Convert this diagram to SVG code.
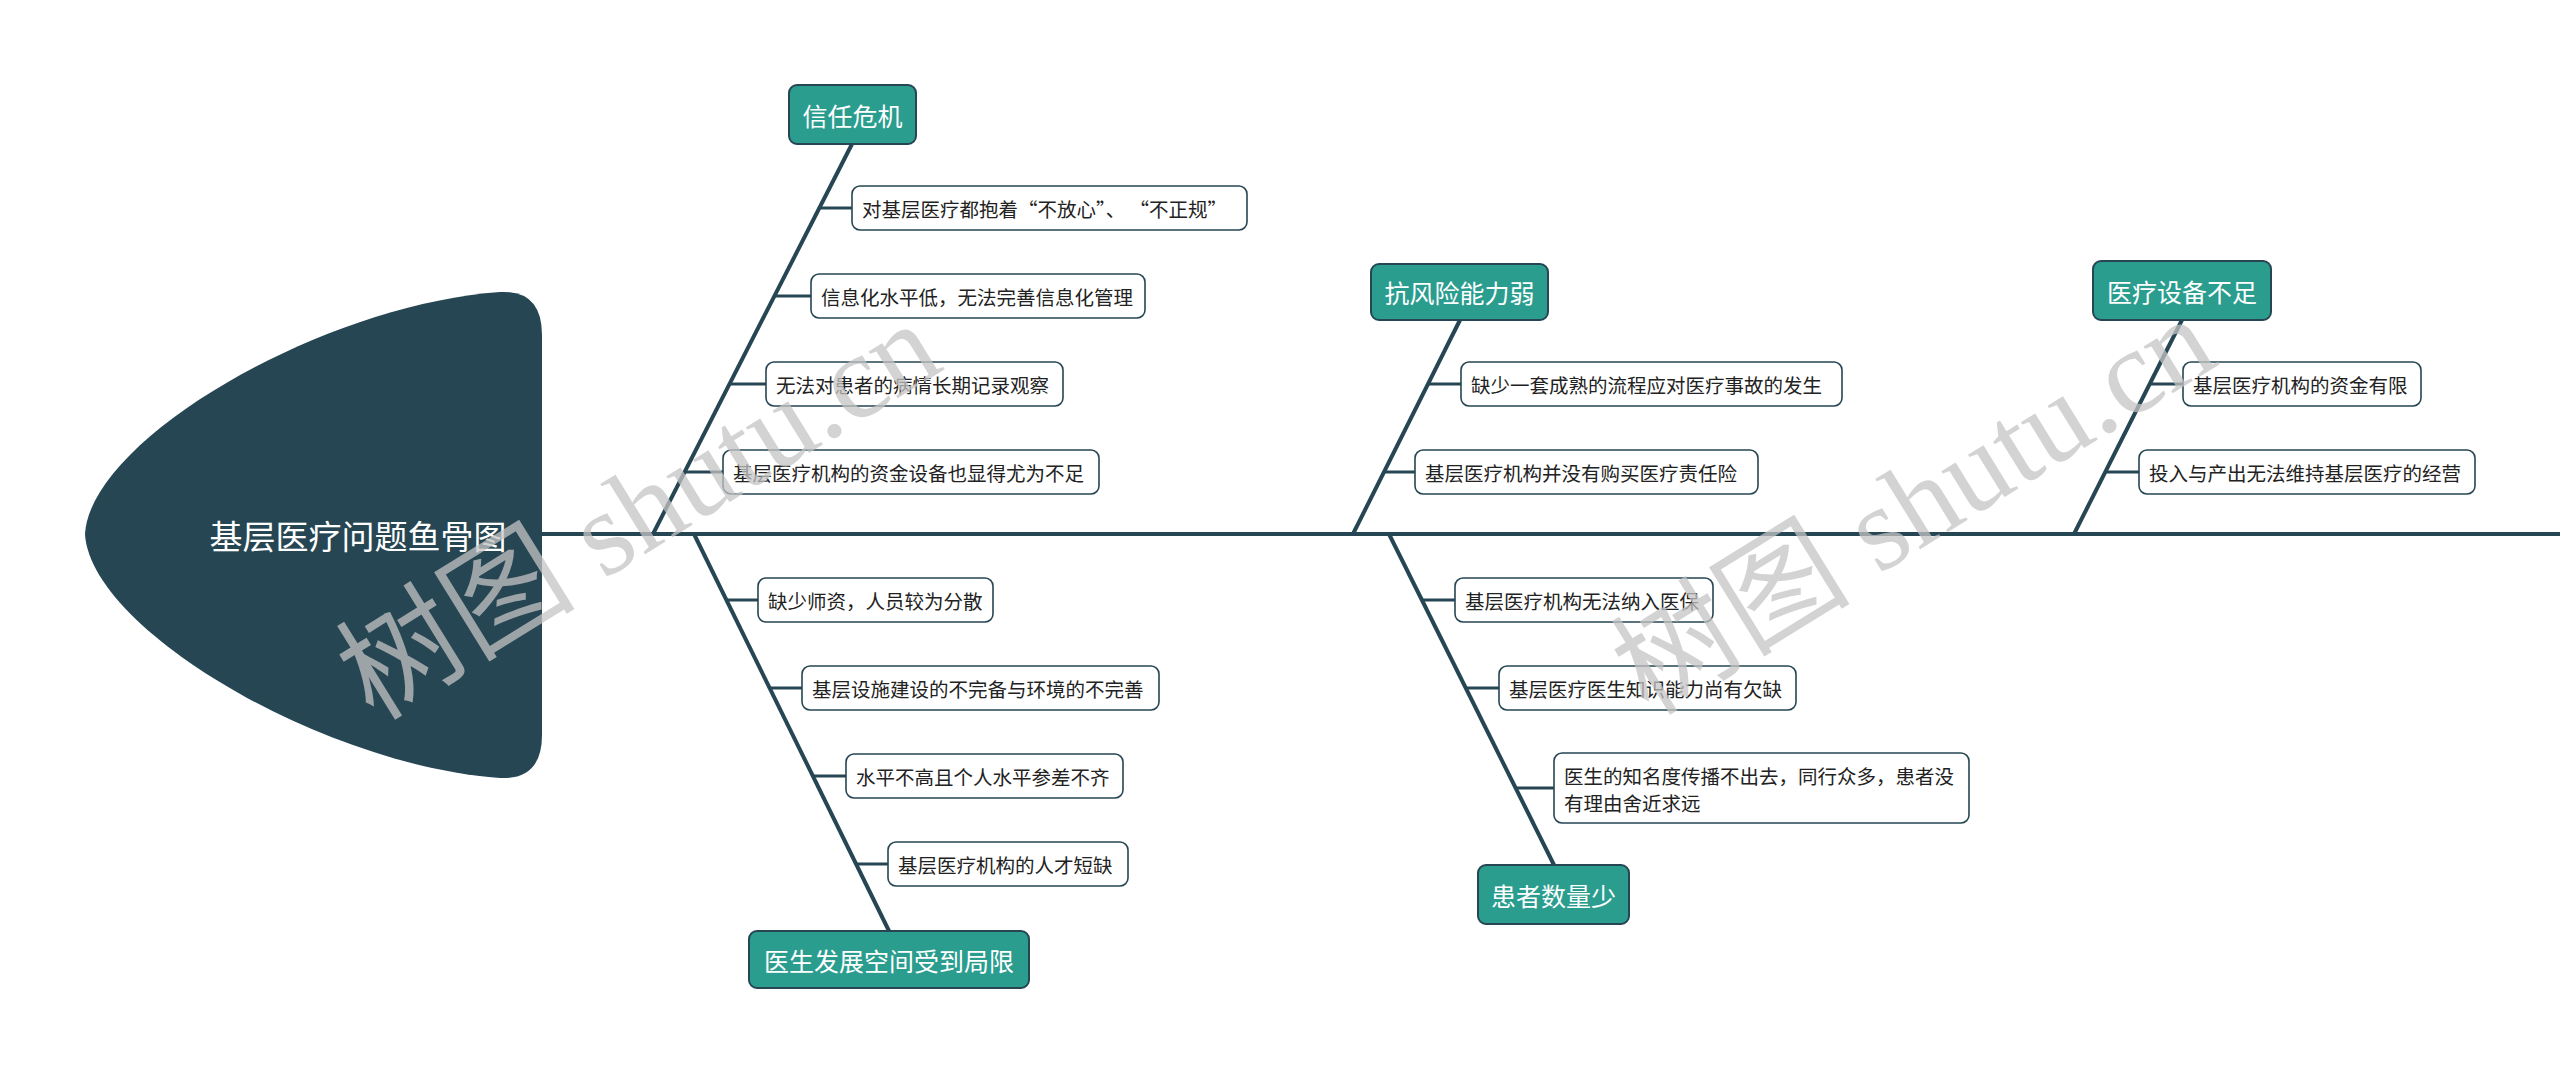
<svg xmlns="http://www.w3.org/2000/svg" width="2560" height="1073" viewBox="0 0 2560 1073">
<style>
.cat rect{fill:#2a9d8f;stroke:#264653;stroke-width:2}
.cat text{fill:#ffffff;font-family:"Noto Sans CJK SC","Noto Sans",sans-serif;font-size:25px;text-anchor:middle;dominant-baseline:central}
.sub rect{fill:#ffffff;stroke:#264653;stroke-width:1.6}
.sub text{fill:#222222;font-family:"Noto Sans CJK SC","Noto Sans",sans-serif;font-size:19.5px;dominant-baseline:central}
.ln{stroke:#264653;fill:none}
.wm{fill:#c4c4c4;fill-opacity:0.75;font-family:"Liberation Serif","Noto Sans CJK SC",serif;font-size:120px;text-anchor:middle}
</style>
<rect width="2560" height="1073" fill="#ffffff"/>
<g id="connectors">
<line class="ln" x1="540" y1="534" x2="2560" y2="534" stroke-width="4"/>
<line class="ln" x1="653" y1="534" x2="852" y2="144" stroke-width="4"/>
<line class="ln" x1="819" y1="208" x2="852" y2="208" stroke-width="3"/>
<line class="ln" x1="774" y1="296" x2="811" y2="296" stroke-width="3"/>
<line class="ln" x1="729" y1="384" x2="766" y2="384" stroke-width="3"/>
<line class="ln" x1="684" y1="472" x2="723" y2="472" stroke-width="3"/>
<line class="ln" x1="694" y1="534" x2="889" y2="931" stroke-width="4"/>
<line class="ln" x1="726" y1="600" x2="758" y2="600" stroke-width="3"/>
<line class="ln" x1="769" y1="688" x2="802" y2="688" stroke-width="3"/>
<line class="ln" x1="812" y1="776" x2="846" y2="776" stroke-width="3"/>
<line class="ln" x1="855" y1="864" x2="888" y2="864" stroke-width="3"/>
<line class="ln" x1="1353" y1="534" x2="1460" y2="320" stroke-width="4"/>
<line class="ln" x1="1427" y1="384" x2="1461" y2="384" stroke-width="3"/>
<line class="ln" x1="1383" y1="472" x2="1415" y2="472" stroke-width="3"/>
<line class="ln" x1="1389" y1="534" x2="1554" y2="865" stroke-width="4"/>
<line class="ln" x1="1421" y1="600" x2="1455" y2="600" stroke-width="3"/>
<line class="ln" x1="1465" y1="688" x2="1499" y2="688" stroke-width="3"/>
<line class="ln" x1="1515" y1="788" x2="1554" y2="788" stroke-width="3"/>
<line class="ln" x1="2074" y1="534" x2="2182" y2="320" stroke-width="4"/>
<line class="ln" x1="2149" y1="384" x2="2183" y2="384" stroke-width="3"/>
<line class="ln" x1="2105" y1="472" x2="2139" y2="472" stroke-width="3"/>
</g>
<g id="head">
<path d="M 85 534 C 90 440, 320 305, 500 292 Q 542 290, 542 335 L 542 735 Q 542 780, 500 778 C 320 765, 90 628, 85 534 Z" fill="#264653"/>
<text x="358" y="535" fill="#ffffff" font-family="Noto Sans CJK SC, Noto Sans, sans-serif" font-size="33" text-anchor="middle" dominant-baseline="central">基层医疗问题鱼骨图</text>
</g>
<g id="cat1" class="cat"><rect x="789" y="85" width="127" height="59" rx="8"/><text x="852.5" y="114.5">信任危机</text></g>
<g id="s1a" class="sub"><rect x="852" y="186" width="395" height="44" rx="8"/><text x="862" y="208">对基层医疗都抱着“不放心”、 “不正规”</text></g>
<g id="s1b" class="sub"><rect x="811" y="274" width="334" height="44" rx="8"/><text x="821" y="296">信息化水平低，无法完善信息化管理</text></g>
<g id="s1c" class="sub"><rect x="766" y="362" width="297" height="44" rx="8"/><text x="776" y="384">无法对患者的病情长期记录观察</text></g>
<g id="s1d" class="sub"><rect x="723" y="450" width="376" height="44" rx="8"/><text x="733" y="472">基层医疗机构的资金设备也显得尤为不足</text></g>
<g id="cat2" class="cat"><rect x="749" y="931" width="280" height="57" rx="8"/><text x="889" y="959.5">医生发展空间受到局限</text></g>
<g id="s2a" class="sub"><rect x="758" y="578" width="235" height="44" rx="8"/><text x="768" y="600">缺少师资，人员较为分散</text></g>
<g id="s2b" class="sub"><rect x="802" y="666" width="357" height="44" rx="8"/><text x="812" y="688">基层设施建设的不完备与环境的不完善</text></g>
<g id="s2c" class="sub"><rect x="846" y="754" width="277" height="44" rx="8"/><text x="856" y="776">水平不高且个人水平参差不齐</text></g>
<g id="s2d" class="sub"><rect x="888" y="842" width="240" height="44" rx="8"/><text x="898" y="864">基层医疗机构的人才短缺</text></g>
<g id="cat3" class="cat"><rect x="1371" y="264" width="177" height="56" rx="8"/><text x="1459.5" y="292">抗风险能力弱</text></g>
<g id="s3a" class="sub"><rect x="1461" y="362" width="381" height="44" rx="8"/><text x="1471" y="384">缺少一套成熟的流程应对医疗事故的发生</text></g>
<g id="s3b" class="sub"><rect x="1415" y="450" width="343" height="44" rx="8"/><text x="1425" y="472">基层医疗机构并没有购买医疗责任险</text></g>
<g id="cat4" class="cat"><rect x="1478" y="865" width="151" height="59" rx="8"/><text x="1553.5" y="894.5">患者数量少</text></g>
<g id="s4a" class="sub"><rect x="1455" y="578" width="258" height="44" rx="8"/><text x="1465" y="600">基层医疗机构无法纳入医保</text></g>
<g id="s4b" class="sub"><rect x="1499" y="666" width="297" height="44" rx="8"/><text x="1509" y="688">基层医疗医生知识能力尚有欠缺</text></g>
<g id="s4c" class="sub"><rect x="1554" y="753" width="415" height="70" rx="8"/><text x="1564" y="775">医生的知名度传播不出去，同行众多，患者没</text><text x="1564" y="802">有理由舍近求远</text></g>
<g id="cat5" class="cat"><rect x="2093" y="261" width="178" height="59" rx="8"/><text x="2182" y="290.5">医疗设备不足</text></g>
<g id="s5a" class="sub"><rect x="2183" y="362" width="238" height="44" rx="8"/><text x="2193" y="384">基层医疗机构的资金有限</text></g>
<g id="s5b" class="sub"><rect x="2139" y="450" width="336" height="44" rx="8"/><text x="2149" y="472">投入与产出无法维持基层医疗的经营</text></g>
<g id="watermarks">
<text class="wm" transform="translate(660,545) rotate(-31.7)">树图 shutu.cn</text>
<text class="wm" transform="translate(1935,540) rotate(-31.7)">树图 shutu.cn</text>
</g>
</svg>
